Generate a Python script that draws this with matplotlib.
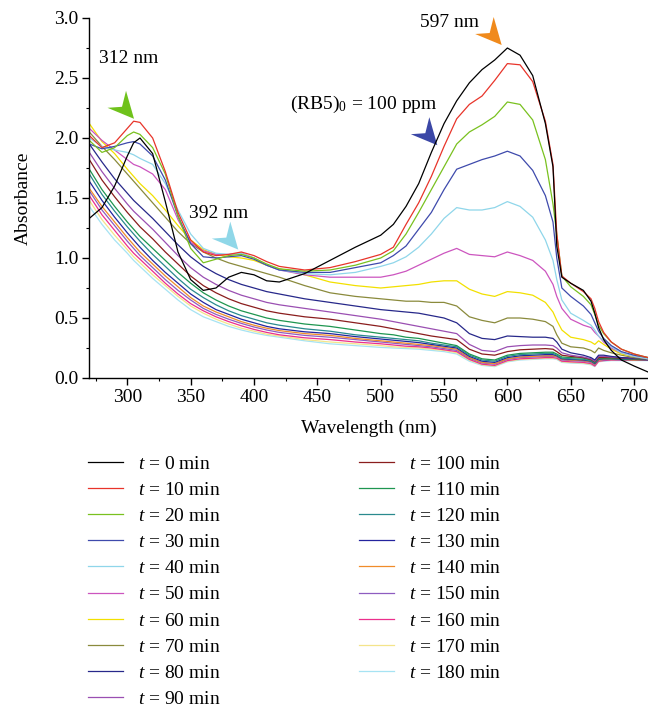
import numpy as np
import matplotlib
matplotlib.use("Agg")
import matplotlib.pyplot as plt
import matplotlib.transforms as mtransforms
from matplotlib.patches import Polygon
from matplotlib.ticker import MultipleLocator

plt.rcParams["font.family"] = ["Liberation Serif", "DejaVu Serif"]
plt.rcParams["mathtext.fontset"] = "custom"
plt.rcParams["mathtext.rm"] = "Liberation Serif"
plt.rcParams["mathtext.it"] = "Liberation Serif:italic"

# wavelength grid (nm) shared by all spectra
wavelength = [270, 280, 290, 300, 305, 310, 320, 330, 340, 350, 360, 370, 380, 390, 400, 410,
              420, 440, 460, 480, 500, 510, 520, 530, 540, 550, 560, 570, 580, 590, 600, 610,
              620, 630, 636, 639, 643, 650, 660, 666, 669, 672, 676, 682, 690, 700, 711]

# absorbance for each irradiation time
abs_t0 = [1.33, 1.42, 1.60, 1.85, 1.96, 2.00, 1.87, 1.47, 1.05, 0.82, 0.73, 0.75, 0.84, 0.88, 0.86, 0.81,
          0.80, 0.87, 0.98, 1.09, 1.19, 1.28, 1.43, 1.62, 1.88, 2.12, 2.31, 2.46, 2.57, 2.65, 2.75, 2.69,
          2.52, 2.12, 1.76, 1.10, 0.84, 0.79, 0.73, 0.64, 0.54, 0.42, 0.32, 0.23, 0.15, 0.10, 0.05]
abs_t10 = [2.02, 1.92, 1.96, 2.08, 2.14, 2.13, 2.00, 1.72, 1.38, 1.15, 1.05, 1.02, 1.03, 1.05, 1.02, 0.97,
           0.93, 0.90, 0.92, 0.97, 1.03, 1.09, 1.28, 1.46, 1.68, 1.93, 2.16, 2.28, 2.35, 2.48, 2.62, 2.61,
           2.47, 2.14, 1.78, 1.20, 0.85, 0.79, 0.72, 0.66, 0.58, 0.47, 0.38, 0.30, 0.24, 0.20, 0.17]
abs_t20 = [1.98, 1.88, 1.92, 2.02, 2.05, 2.03, 1.92, 1.70, 1.35, 1.08, 0.96, 0.99, 1.02, 1.03, 1.00, 0.95,
           0.91, 0.89, 0.90, 0.94, 1.00, 1.06, 1.20, 1.38, 1.57, 1.76, 1.95, 2.05, 2.11, 2.18, 2.30, 2.28,
           2.15, 1.82, 1.45, 1.20, 0.85, 0.76, 0.68, 0.61, 0.53, 0.44, 0.37, 0.30, 0.24, 0.20, 0.17]
abs_t30 = [1.95, 1.91, 1.93, 1.96, 1.97, 1.95, 1.85, 1.65, 1.35, 1.12, 1.01, 1.00, 1.01, 1.02, 0.99, 0.94,
           0.90, 0.88, 0.88, 0.92, 0.96, 1.02, 1.10, 1.24, 1.38, 1.57, 1.74, 1.78, 1.82, 1.85, 1.89, 1.85,
           1.73, 1.52, 1.30, 1.00, 0.75, 0.68, 0.60, 0.53, 0.46, 0.39, 0.33, 0.27, 0.22, 0.19, 0.17]
abs_t40 = [2.00, 1.93, 1.90, 1.88, 1.86, 1.83, 1.78, 1.62, 1.40, 1.20, 1.08, 1.04, 1.03, 1.04, 1.00, 0.94,
           0.90, 0.87, 0.86, 0.88, 0.93, 0.96, 1.01, 1.09, 1.20, 1.33, 1.42, 1.40, 1.40, 1.42, 1.47, 1.43,
           1.34, 1.15, 0.98, 0.82, 0.65, 0.54, 0.48, 0.44, 0.40, 0.35, 0.31, 0.26, 0.21, 0.18, 0.16]
abs_t50 = [2.08, 1.98, 1.90, 1.82, 1.78, 1.76, 1.70, 1.57, 1.32, 1.13, 1.06, 1.03, 1.03, 1.04, 1.00, 0.94,
           0.90, 0.86, 0.84, 0.84, 0.84, 0.86, 0.89, 0.94, 0.99, 1.04, 1.08, 1.03, 1.02, 1.01, 1.05, 1.02,
           0.98, 0.89, 0.78, 0.68, 0.58, 0.49, 0.44, 0.42, 0.38, 0.35, 0.30, 0.25, 0.21, 0.18, 0.16]
abs_t60 = [2.12, 1.97, 1.87, 1.74, 1.68, 1.62, 1.52, 1.40, 1.27, 1.15, 1.07, 1.03, 1.01, 1.00, 0.98, 0.94,
           0.91, 0.86, 0.80, 0.77, 0.75, 0.76, 0.77, 0.78, 0.80, 0.81, 0.81, 0.74, 0.70, 0.68, 0.72, 0.71,
           0.69, 0.63, 0.55, 0.48, 0.40, 0.34, 0.32, 0.30, 0.28, 0.31, 0.28, 0.24, 0.20, 0.18, 0.17]
abs_t70 = [2.05, 1.93, 1.82, 1.70, 1.64, 1.58, 1.46, 1.34, 1.22, 1.12, 1.05, 1.00, 0.96, 0.93, 0.90, 0.87,
           0.84, 0.77, 0.71, 0.68, 0.66, 0.65, 0.64, 0.64, 0.63, 0.63, 0.60, 0.51, 0.48, 0.46, 0.50, 0.50,
           0.49, 0.47, 0.43, 0.36, 0.29, 0.26, 0.25, 0.23, 0.21, 0.25, 0.23, 0.21, 0.19, 0.17, 0.16]
abs_t80 = [1.95, 1.80, 1.66, 1.54, 1.48, 1.43, 1.33, 1.22, 1.11, 1.01, 0.93, 0.87, 0.82, 0.78, 0.75, 0.72,
           0.70, 0.66, 0.63, 0.60, 0.57, 0.56, 0.55, 0.54, 0.52, 0.50, 0.46, 0.37, 0.33, 0.32, 0.35, 0.345,
           0.34, 0.34, 0.33, 0.30, 0.24, 0.21, 0.19, 0.17, 0.15, 0.19, 0.19, 0.18, 0.17, 0.165, 0.16]
abs_t90 = [1.88, 1.72, 1.58, 1.45, 1.39, 1.34, 1.24, 1.13, 1.02, 0.92, 0.84, 0.78, 0.73, 0.69, 0.66, 0.63,
           0.61, 0.58, 0.55, 0.52, 0.49, 0.47, 0.45, 0.43, 0.41, 0.39, 0.37, 0.28, 0.23, 0.22, 0.26, 0.27,
           0.275, 0.275, 0.27, 0.25, 0.21, 0.19, 0.175, 0.16, 0.14, 0.18, 0.18, 0.175, 0.17, 0.165, 0.16]
abs_t100 = [1.82, 1.65, 1.51, 1.38, 1.32, 1.26, 1.16, 1.05, 0.95, 0.85, 0.77, 0.71, 0.66, 0.62, 0.59, 0.56,
            0.54, 0.51, 0.49, 0.46, 0.43, 0.41, 0.39, 0.37, 0.35, 0.335, 0.32, 0.24, 0.20, 0.19, 0.22, 0.235,
            0.24, 0.245, 0.24, 0.22, 0.19, 0.18, 0.17, 0.155, 0.135, 0.17, 0.17, 0.17, 0.165, 0.16, 0.16]
abs_t110 = [1.74, 1.57, 1.43, 1.30, 1.24, 1.18, 1.08, 0.98, 0.88, 0.79, 0.71, 0.65, 0.60, 0.56, 0.53, 0.50,
            0.48, 0.45, 0.43, 0.40, 0.37, 0.36, 0.34, 0.33, 0.31, 0.29, 0.27, 0.20, 0.16, 0.15, 0.19, 0.205,
            0.21, 0.215, 0.215, 0.20, 0.175, 0.17, 0.165, 0.15, 0.13, 0.165, 0.165, 0.165, 0.16, 0.16, 0.155]
abs_t120 = [1.70, 1.53, 1.39, 1.26, 1.20, 1.14, 1.03, 0.93, 0.83, 0.74, 0.67, 0.61, 0.56, 0.52, 0.49, 0.46,
            0.44, 0.41, 0.39, 0.36, 0.34, 0.33, 0.32, 0.31, 0.29, 0.275, 0.26, 0.19, 0.15, 0.14, 0.18, 0.195,
            0.20, 0.205, 0.205, 0.19, 0.165, 0.16, 0.155, 0.145, 0.125, 0.16, 0.16, 0.16, 0.16, 0.155, 0.155]
abs_t130 = [1.64, 1.48, 1.34, 1.21, 1.15, 1.09, 0.98, 0.88, 0.79, 0.70, 0.63, 0.57, 0.53, 0.49, 0.46, 0.43,
            0.41, 0.385, 0.37, 0.345, 0.325, 0.315, 0.305, 0.295, 0.28, 0.265, 0.25, 0.18, 0.14, 0.13, 0.17, 0.185,
            0.19, 0.195, 0.195, 0.185, 0.16, 0.155, 0.15, 0.14, 0.12, 0.155, 0.16, 0.16, 0.155, 0.155, 0.15]
abs_t140 = [1.58, 1.43, 1.30, 1.17, 1.11, 1.05, 0.95, 0.85, 0.76, 0.67, 0.60, 0.55, 0.51, 0.47, 0.44, 0.415,
            0.395, 0.37, 0.355, 0.33, 0.31, 0.30, 0.29, 0.28, 0.27, 0.255, 0.24, 0.17, 0.13, 0.12, 0.16, 0.175,
            0.18, 0.185, 0.185, 0.18, 0.155, 0.15, 0.145, 0.135, 0.115, 0.15, 0.155, 0.155, 0.155, 0.15, 0.15]
abs_t150 = [1.56, 1.40, 1.27, 1.14, 1.08, 1.02, 0.92, 0.82, 0.73, 0.65, 0.58, 0.53, 0.49, 0.455, 0.425, 0.40,
            0.38, 0.355, 0.34, 0.32, 0.30, 0.29, 0.28, 0.27, 0.26, 0.245, 0.23, 0.165, 0.125, 0.115, 0.155, 0.17,
            0.175, 0.18, 0.18, 0.175, 0.15, 0.145, 0.14, 0.13, 0.11, 0.15, 0.15, 0.155, 0.15, 0.15, 0.15]
abs_t160 = [1.52, 1.36, 1.23, 1.10, 1.04, 0.99, 0.89, 0.79, 0.70, 0.62, 0.56, 0.51, 0.47, 0.435, 0.405, 0.38,
            0.36, 0.335, 0.32, 0.30, 0.285, 0.275, 0.265, 0.26, 0.25, 0.235, 0.22, 0.155, 0.115, 0.105, 0.145, 0.16,
            0.165, 0.17, 0.17, 0.165, 0.14, 0.135, 0.13, 0.12, 0.10, 0.14, 0.145, 0.15, 0.15, 0.15, 0.15]
abs_t170 = [1.48, 1.32, 1.19, 1.07, 1.01, 0.96, 0.86, 0.77, 0.68, 0.60, 0.54, 0.49, 0.45, 0.415, 0.39, 0.365,
            0.35, 0.32, 0.30, 0.285, 0.27, 0.26, 0.255, 0.25, 0.24, 0.23, 0.21, 0.15, 0.11, 0.10, 0.14, 0.155,
            0.16, 0.165, 0.165, 0.16, 0.135, 0.13, 0.125, 0.115, 0.10, 0.14, 0.145, 0.15, 0.15, 0.15, 0.15]
abs_t180 = [1.43, 1.28, 1.15, 1.04, 0.98, 0.93, 0.83, 0.74, 0.65, 0.57, 0.51, 0.47, 0.43, 0.40, 0.375, 0.355,
            0.34, 0.31, 0.285, 0.27, 0.255, 0.25, 0.245, 0.24, 0.23, 0.22, 0.20, 0.14, 0.105, 0.095, 0.135, 0.15,
            0.155, 0.16, 0.16, 0.155, 0.13, 0.125, 0.12, 0.11, 0.095, 0.135, 0.14, 0.145, 0.145, 0.145, 0.145]

times = [0, 10, 20, 30, 40, 50, 60, 70, 80, 90, 100, 110, 120, 130, 140, 150, 160, 170, 180]
spectra = [abs_t0, abs_t10, abs_t20, abs_t30, abs_t40, abs_t50, abs_t60, abs_t70, abs_t80, abs_t90,
           abs_t100, abs_t110, abs_t120, abs_t130, abs_t140, abs_t150, abs_t160, abs_t170, abs_t180]
colors = ["#000000", "#e8342a", "#79c11f", "#3e4aac", "#8fd6ea", "#cc55bf", "#f2e000", "#8a8a3c",
          "#27288a", "#9a4fb2", "#8a1d1d", "#1e9650", "#2a8a8e", "#24249e", "#f08c2a", "#8e5cc0",
          "#ec2f8c", "#f4e48a", "#a6e3f3"]

# peak markers: (wavelength, absorbance, colour) of each arrow tip, and the labels
arrow_tips = [(305.3, 2.16, "#6fc21b"), (387.6, 1.07, "#8fd7e8"), (544.7, 1.94, "#3b47a6"), (595.5, 2.775, "#f08a1c")]
labels_txt = [(277.6, 2.66, "312 nm"), (348.7, 1.375, "392 nm"), (531.0, 2.96, "597 nm"),
              (428.4, 2.28, "(RB5)$_0$ = 100 ppm")]

fs = 14
fig = plt.figure(figsize=(6.48, 7.12), dpi=100)
ax = fig.add_axes([89.3 / 648, (712 - 378) / 712, (648 - 89.3) / 648, 360 / 712])

lines = [None] * len(times)
for i in range(len(times) - 1, -1, -1):
    lines[i], = ax.plot(wavelength, spectra[i], color=colors[i], lw=0.9)

ax.set_xlim(270, 711)
ax.set_ylim(0, 3.0)
ax.xaxis.set_major_locator(MultipleLocator(50))
ax.xaxis.set_minor_locator(MultipleLocator(25))
ax.yaxis.set_major_locator(MultipleLocator(0.5))
ax.yaxis.set_minor_locator(MultipleLocator(0.25))
ax.yaxis.set_major_formatter(matplotlib.ticker.FormatStrFormatter("%.1f"))
ax.spines["top"].set_visible(False)
ax.spines["right"].set_visible(False)
for s in ["left", "bottom"]:
    ax.spines[s].set_linewidth(1.0)
ax.tick_params(which="major", length=5, width=1.0, labelsize=fs, pad=3)
ax.tick_params(which="minor", length=2.5, width=0.8)
ax.set_xlabel("Wavelength (nm)", fontsize=fs, labelpad=10)
ax.set_ylabel("Absorbance", fontsize=fs, labelpad=16)

# arrowheads (offsets in inches from the tip)
head = np.array([[0, 0], [-0.265, 0.11], [-0.12, 0.12], [-0.08, 0.28]])
for x, y, c in arrow_tips:
    trans = fig.dpi_scale_trans + mtransforms.ScaledTranslation(x, y, ax.transData)
    ax.add_patch(Polygon(head, closed=True, facecolor=c, edgecolor="none", transform=trans, clip_on=False))

for x, y, t in labels_txt:
    ax.text(x, y, t, fontsize=fs, va="center", ha="left")

leg_labels = ["$t$ = %d min" % t for t in times]
common = dict(frameon=False, fontsize=fs, handlelength=1.8, handletextpad=0.75,
              labelspacing=0.44, borderpad=0, borderaxespad=0, loc="upper left")
leg1 = fig.legend(lines[:10], leg_labels[:10], bbox_to_anchor=(88 / 648, 1 - 455 / 712), **common)
leg2 = fig.legend(lines[10:], leg_labels[10:], bbox_to_anchor=(359 / 648, 1 - 455 / 712), **common)

fig.savefig("out.png", dpi=100)
